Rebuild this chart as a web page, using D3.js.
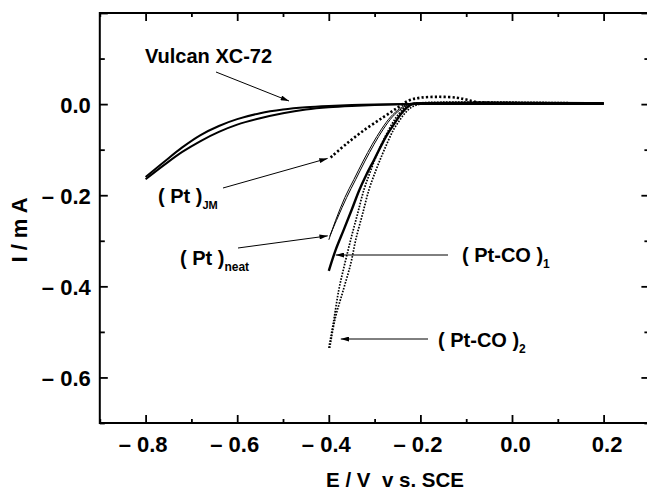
<!DOCTYPE html>
<html><head><meta charset="utf-8">
<script src="https://cdn.jsdelivr.net/npm/d3@7"></script>
<style>body{margin:0;background:#fff}svg text{font-family:"Liberation Sans",Arial,sans-serif;font-weight:bold;fill:#000;white-space:pre}</style>
</head><body><svg id="c" width="647" height="490"></svg>
<script>
// Data (E / V vs SCE, I / mA)
const vulcanUpper = [[-0.80,-0.160],[-0.76,-0.127],[-0.72,-0.095],[-0.68,-0.068],[-0.64,-0.048],[-0.60,-0.033],[-0.55,-0.020],[-0.50,-0.012],[-0.45,-0.007],[-0.40,-0.004],[-0.35,-0.002],[-0.30,-0.001],[-0.20,0.000],[0.20,0.000]];
const vulcanLower = [[-0.80,-0.165],[-0.76,-0.134],[-0.72,-0.105],[-0.68,-0.081],[-0.64,-0.061],[-0.60,-0.045],[-0.55,-0.031],[-0.50,-0.020],[-0.45,-0.012],[-0.40,-0.007],[-0.35,-0.004],[-0.30,-0.002],[-0.20,0.000],[0.20,0.000]];
const ptJM = [[-0.396,-0.117],[-0.36,-0.086],[-0.32,-0.055],[-0.28,-0.028],[-0.25,-0.008],[-0.225,0.008],[-0.20,0.014],[-0.16,0.016],[-0.12,0.014],[-0.10,0.010],[-0.08,0.005],[-0.05,0.003],[0.0,0.002],[0.20,0.002]];
const ptNeatA = [[-0.400,-0.298],[-0.385,-0.255],[-0.365,-0.205],[-0.345,-0.165],[-0.325,-0.125],[-0.305,-0.088],[-0.285,-0.055],[-0.265,-0.028],[-0.245,-0.010],[-0.228,0.000],[-0.21,0.003],[-0.15,0.002],[0.20,0.002]];
const ptNeatB = [[-0.398,-0.290],[-0.381,-0.250],[-0.361,-0.205],[-0.341,-0.165],[-0.321,-0.125],[-0.301,-0.088],[-0.281,-0.055],[-0.261,-0.028],[-0.241,-0.010],[-0.224,0.000],[-0.206,0.002],[-0.15,0.001],[0.20,0.001]];
const ptCO1 = [[-0.400,-0.366],[-0.385,-0.320],[-0.367,-0.275],[-0.350,-0.232],[-0.334,-0.190],[-0.318,-0.155],[-0.301,-0.122],[-0.285,-0.090],[-0.272,-0.066],[-0.257,-0.043],[-0.243,-0.022],[-0.230,-0.008],[-0.218,0.000],[-0.20,0.002],[0.20,0.002]];
const ptCO2inner = [[-0.400,-0.535],[-0.390,-0.480],[-0.378,-0.407],[-0.365,-0.350],[-0.352,-0.297],[-0.337,-0.240],[-0.323,-0.187],[-0.310,-0.150],[-0.298,-0.118],[-0.285,-0.088],[-0.270,-0.058],[-0.255,-0.032],[-0.240,-0.013],[-0.225,-0.002],[-0.21,0.002],[0.20,0.002]];
const ptCO2outer = [[-0.398,-0.535],[-0.386,-0.470],[-0.368,-0.407],[-0.352,-0.350],[-0.341,-0.297],[-0.326,-0.240],[-0.312,-0.187],[-0.297,-0.145],[-0.283,-0.110],[-0.270,-0.080],[-0.258,-0.055],[-0.245,-0.035],[-0.232,-0.018],[-0.218,-0.006],[-0.20,0.000],[-0.18,0.002],[0.20,0.002]];
const xMajor = [-0.8,-0.6,-0.4,-0.2,0.0,0.2];
const xMinor = [-0.9,-0.7,-0.5,-0.3,-0.1,0.1,0.3];
const yMajor = [-0.6,-0.4,-0.2,0.0,0.2];
const yMinor = [-0.7,-0.5,-0.3,-0.1,0.1];
const yLabels = ["\u2013 0.6","\u2013 0.4","\u2013 0.2","0.0",""];
const xLabels = ["\u2013 0.8","\u2013 0.6","\u2013 0.4","\u2013 0.2","0.0","0.2"];

const svg = d3.select("#c");
const x = d3.scaleLinear().domain([-0.9,0.3]).range([99.8,649.4]);
const y = d3.scaleLinear().domain([-0.7,0.2]).range([423,13]);

const defs = svg.append("defs");
defs.append("marker").attr("id","ah").attr("viewBox","0 0 10 6").attr("refX",10).attr("refY",3)
  .attr("markerWidth",9).attr("markerHeight",5).attr("markerUnits","userSpaceOnUse").attr("orient","auto")
  .append("path").attr("d","M0,0L10,3L0,6Z").attr("fill","#000");

// curves
const lineC = d3.line().x(d=>x(d[0])).y(d=>y(d[1])).curve(d3.curveCatmullRom);
function draw(data, w, dash){
  const p = svg.append("path").attr("d", lineC(data)).attr("fill","none").attr("stroke","#000")
    .attr("stroke-width", w).attr("stroke-linejoin","round");
  if (dash) p.attr("stroke-dasharray", dash);
  return p;
}
draw(vulcanUpper, 2);
draw(vulcanLower, 2);
draw(ptNeatA, 1);
draw(ptNeatB, 1);
draw(ptCO1, 2.4);
draw(ptCO2inner, 1.7, "1.6,1.4");
draw(ptCO2outer, 1.7, "1.6,1.4");
draw(ptJM, 2.6, "2.2,2.2");

// axes frame
const g = svg.append("g");
g.append("rect").attr("x",x(-0.9)).attr("y",y(0.2)).attr("width",x(0.3)-x(-0.9)).attr("height",y(-0.7)-y(0.2))
  .attr("fill","none").attr("stroke","#000").attr("stroke-width",2);
const bottomAx = d3.axisBottom(x).tickValues(xMajor).tickSize(-8).tickFormat((d,i)=>xLabels[i]).tickPadding(13);
const bx = g.append("g").attr("transform",`translate(0,${y(-0.7)})`).call(bottomAx);
bx.selectAll(".tick text").attr("dx",d=>d<0?-3:3);
bx.append("g").call(d3.axisBottom(x).tickValues(xMinor).tickSize(-4).tickFormat(""));
const topG = g.append("g").attr("transform",`translate(0,${y(0.2)})`);
topG.call(d3.axisTop(x).tickValues(xMajor).tickSize(-8).tickFormat(""));
topG.append("g").call(d3.axisTop(x).tickValues(xMinor).tickSize(-4).tickFormat(""));
const leftG = g.append("g").attr("transform",`translate(${x(-0.9)},0)`);
leftG.call(d3.axisLeft(y).tickValues(yMajor).tickSize(-8).tickFormat((d,i)=>yLabels[i]).tickPadding(9));
leftG.append("g").call(d3.axisLeft(y).tickValues(yMinor).tickSize(-5).tickFormat(""));
const rightG = g.append("g").attr("transform",`translate(${x(0.3)},0)`);
rightG.call(d3.axisRight(y).tickValues(yMajor).tickSize(-8).tickFormat(""));
rightG.append("g").call(d3.axisRight(y).tickValues(yMinor).tickSize(-5).tickFormat(""));
g.selectAll(".domain").remove();
g.selectAll(".tick line").attr("stroke","#000").attr("stroke-width",1.8);
g.selectAll(".tick text").style("font-size","22px").style("font-family","Liberation Sans, Arial").style("font-weight","bold").attr("fill","#000");
leftG.selectAll(".tick text").attr("dy","0.36em");

// axis titles
svg.append("text").attr("x",395).attr("y",487).attr("text-anchor","middle").style("font-size","20.5px").text("E / V  v s. SCE");
svg.append("text").attr("transform","translate(27,230) rotate(-90)").attr("text-anchor","middle").style("font-size","22px").text("I / m A");

// annotations
function arrow(x1,y1,x2,y2){
  svg.append("line").attr("x1",x1).attr("y1",y1).attr("x2",x2).attr("y2",y2).attr("stroke","#000").attr("stroke-width",1).attr("marker-end","url(#ah)");
}
function label(tx,ty,main,sub,subSize){
  const t = svg.append("text").attr("x",tx).attr("y",ty).style("font-size","20px").text(main);
  if (sub) t.append("tspan").attr("dy",6).style("font-size",subSize+"px").text(sub);
}
label(145,63,"Vulcan XC-72");
arrow(216,72,289,101);
label(158,203,"( Pt )","JM",11);
arrow(223,188,x(ptJM[0][0])-3,y(ptJM[0][1])+1);
label(180,265,"( Pt )","neat",12);
arrow(238,248,x(ptNeatA[0][0])-1,y(ptNeatA[0][1])-4);
label(462,262,"( Pt-CO )","1",12);
arrow(448,255,x(ptCO1[0][0])+7,255);
label(438,347,"( Pt-CO )","2",12);
arrow(428,339,x(ptCO2inner[0][0])+12,339);
</script></body></html>
